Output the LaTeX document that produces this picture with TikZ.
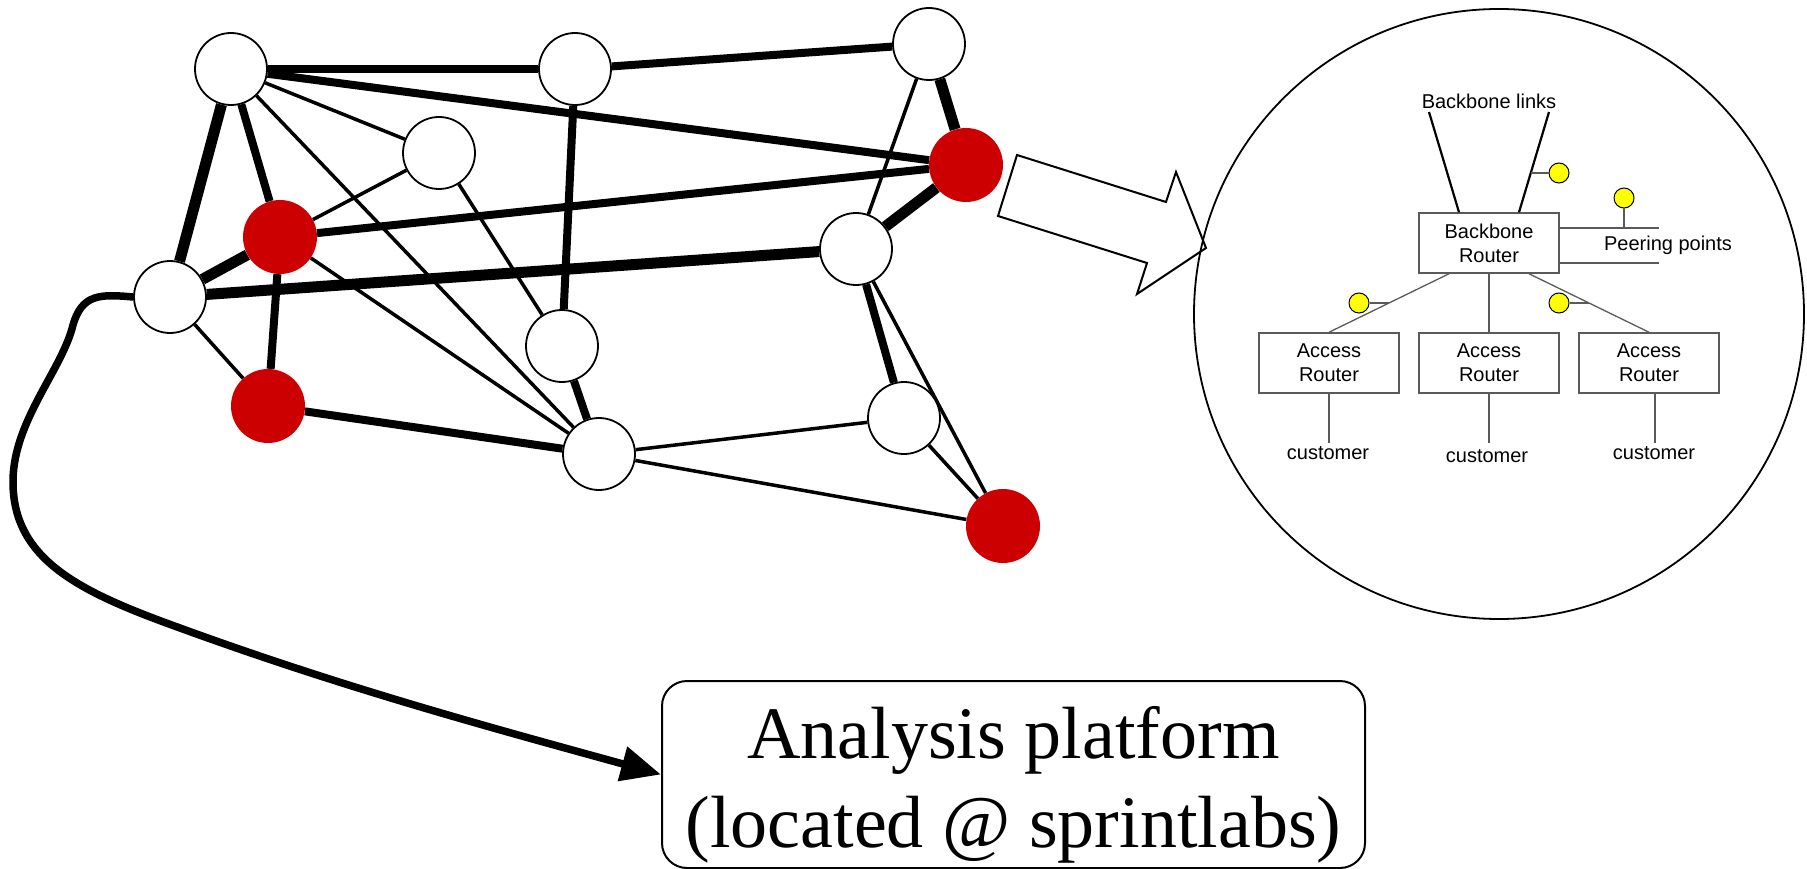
\documentclass[tikz,border=0pt]{standalone}
\usepackage{fontspec}
\setmainfont{Liberation Serif}
\newfontfamily\routerfont{Liberation Sans}
\usetikzlibrary{arrows.meta,backgrounds}
\definecolor{hotred}{HTML}{CC0000}
\definecolor{wiregray}{HTML}{5A5A5A}
\definecolor{probeyellow}{HTML}{FFFF00}
\begin{document}
\begin{tikzpicture}[x=1pt,y=-1pt,
  router/.style={circle,draw=black,line width=1.8pt,fill=white,minimum size=72pt,inner sep=0pt},
  hotrouter/.style={circle,fill=hotred,minimum size=74pt,inner sep=0pt},
  thinlink/.style={line width=3.5pt},
  thicklink/.style={line width=8pt},
  heavylink/.style={line width=11pt},
  routerbox/.style={draw=wiregray,line width=1.5pt,fill=white,minimum width=140pt,
    minimum height=60pt,inner sep=0pt,align=center,font=\routerfont\fontsize{20}{24}\selectfont},
  wire/.style={draw=wiregray,line width=1.3pt},
  uplink/.style={draw=black,line width=2.2pt},
  probe/.style={circle,draw=black,line width=1pt,fill=probeyellow,minimum size=20pt,inner sep=0pt},
  tag/.style={font=\routerfont\fontsize{20}{24}\selectfont,inner sep=0pt},
]
\useasboundingbox (0,0) rectangle (1807,869);

% backbone routers of the network
\node[router]    (n1) at (231,69)  {};
\node[router]    (n2) at (575,69)  {};
\node[router]    (n3) at (929,44)  {};
\node[router]    (n4) at (439,153) {};
\node[hotrouter] (r1) at (280,237) {};
\node[hotrouter] (r2) at (966,165) {};
\node[router]    (n5) at (856,249) {};
\node[router]    (n6) at (170,297) {};
\node[router]    (n7) at (562,346) {};
\node[hotrouter] (r3) at (268,406) {};
\node[router]    (n8) at (599,454) {};
\node[router]    (n9) at (904,418) {};
\node[hotrouter] (r4) at (1003,526) {};

% links between routers
\begin{scope}[on background layer]
  \draw[thicklink] (n1) -- (n2);
  \draw[thicklink] (n2) -- (n3);
  \draw[thicklink] (n1) -- (r2);
  \draw[thicklink] (n1) -- (r1);
  \draw[thicklink] (r1) -- (r2);
  \draw[thicklink] (r1) -- (r3);
  \draw[thicklink] (r3) -- (n8);
  \draw[thicklink] (n2) -- (n7);
  \draw[thicklink] (n7) -- (n8);
  \draw[thicklink] (n5) -- (n9);
  \draw[heavylink] (n1) -- (n6);
  \draw[heavylink] (r1) -- (n6);
  \draw[heavylink] (n6) -- (n5);
  \draw[heavylink] (r2) -- (n5);
  \draw[heavylink] (n3) -- (r2);
  \draw[thinlink] (n1) -- (n4);
  \draw[thinlink] (n1) -- (n8);
  \draw[thinlink] (n4) -- (r1);
  \draw[thinlink] (n4) -- (n7);
  \draw[thinlink] (r1) -- (n8);
  \draw[thinlink] (n3) -- (n5);
  \draw[thinlink] (n6) -- (r3);
  \draw[thinlink] (n8) -- (n9);
  \draw[thinlink] (n8) -- (r4);
  \draw[thinlink] (n5) -- (r4);
  \draw[thinlink] (n9) -- (r4);
\end{scope}

% hollow block arrow towards the close-up
\draw[line width=2pt,fill=white,line join=miter]
  (1017,155) -- (1166,202) -- (1176,172) -- (1206,248) -- (1137,294) -- (1147,263) -- (998,216) -- cycle;

% close-up of a point of presence
\node[circle,draw=black,line width=1.8pt,minimum size=610pt,inner sep=0pt] (closeup) at (1499,314) {};

\node[routerbox] (bb)  at (1489,243) {Backbone\\Router};
\node[routerbox] (ar1) at (1329,363) {Access\\Router};
\node[routerbox] (ar2) at (1489,363) {Access\\Router};
\node[routerbox] (ar3) at (1649,363) {Access\\Router};

\node[tag] (linkslabel) at (1489,101) {Backbone links};
\coordinate (linkL) at (1429,112);
\coordinate (linkR) at (1549,112);
\draw[uplink] ([xshift=-30pt]bb.north) -- (linkL);
\draw[uplink] ([xshift=30pt]bb.north) -- (linkR);
\coordinate (tapR) at (1531,173);
\node[probe] (p1) at (1559,173) {};
\draw[wire] (tapR) -- (p1);

\coordinate (peerEnd1) at (1659,228);
\coordinate (peerEnd2) at (1659,263);
\draw[wire] (bb.east |- peerEnd1) -- (peerEnd1);
\draw[wire] (bb.east |- peerEnd2) -- (peerEnd2);
\coordinate (peerTap) at (1624,228);
\node[probe] (p2) at (1624,198) {};
\draw[wire] (peerTap) -- (p2);
\node[tag] (peerlabel) at (1668,245) {Peering points};

\draw[wire] ([xshift=-40pt]bb.south) -- (ar1.north);
\draw[wire] (bb.south) -- (ar2.north);
\draw[wire] ([xshift=40pt]bb.south) -- (ar3.north);
\coordinate (tapA) at (1389,303);
\node[probe] (p3) at (1359,303) {};
\draw[wire] (tapA) -- (p3);
\coordinate (tapC) at (1589,303);
\node[probe] (p4) at (1559,303) {};
\draw[wire] (tapC) -- (p4);

\node[tag] (c1) at (1328,453) {customer};
\node[tag] (c2) at (1487,456) {customer};
\node[tag] (c3) at (1654,453) {customer};
\draw[wire] (ar1.south) -- (ar1.south |- 0,443);
\draw[wire] (ar2.south) -- (ar2.south |- 0,443);
\draw[wire] ([xshift=6pt]ar3.south) -- ([xshift=6pt]ar3.south |- 0,443);

% analysis platform and the feed into it
\node[draw=black,line width=2pt,rounded corners=25pt,minimum width=703pt,minimum height=187pt,inner sep=0pt]
  (platform) at (1013.5,774.5) {};
\node[font=\fontsize{74}{89}\selectfont,align=center,inner sep=0pt] (platformlabel) at (1013.5,785)
  {Analysis platform\\(located @ sprintlabs)};

\draw[line width=7.5pt,-{Triangle[length=40pt,width=34pt]}]
  (n6.west) .. controls (100,294) and (82,294) .. (73,325)
  .. controls (62,370) and (14,420) .. (13,480)
  .. controls (12,560) and (80,592) .. (180,628)
  .. controls (350,690) and (500,730) .. (platform.west);
\end{tikzpicture}
\end{document}
